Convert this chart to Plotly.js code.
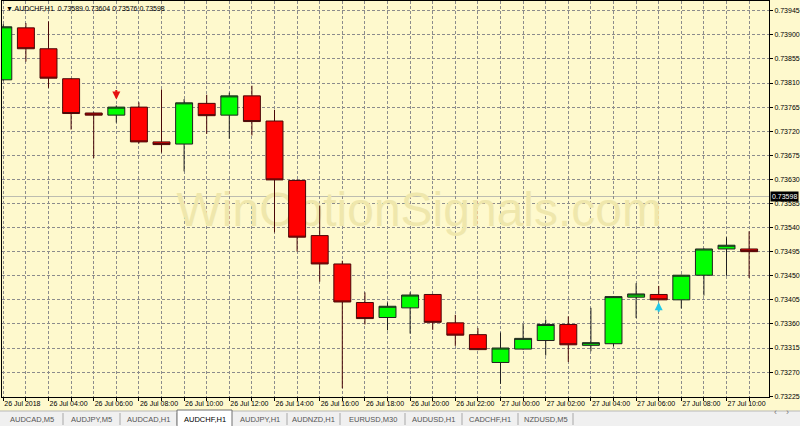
<!DOCTYPE html>
<html><head><meta charset="utf-8">
<script src="https://cdn.plot.ly/plotly-3.0.1.min.js"></script>
<style>html,body{margin:0;padding:0;background:#fef9cd;}#chart{width:800px;height:426px;}</style>
</head><body><div id="chart"></div>
<script>
// ---------- data ----------
const symbolName = 'AUDCHF,H1';
const headerOHLC = [0.73589, 0.73604, 0.73576, 0.73598];
const barIndex = [0,1,2,3,4,5,6,7,8,9,10,11,12,13,14,15,16,17,18,19,20,21,22,23,24,25,26,27,28,29,30,31,32,33];
const tickText = ['26 Jul 2018','','26 Jul 04:00','','26 Jul 06:00','','26 Jul 08:00','','26 Jul 10:00','',
  '26 Jul 12:00','','26 Jul 14:00','','26 Jul 16:00','','26 Jul 18:00','','26 Jul 20:00','',
  '26 Jul 22:00','','27 Jul 00:00','','27 Jul 02:00','','27 Jul 04:00','','27 Jul 06:00','',
  '27 Jul 08:00','','27 Jul 10:00',''];
const openP  = [0.73816,0.73913,0.73874,0.73818,0.73754,0.73750,0.73765,0.73700,0.73696,0.73772,
                0.73750,0.73786,0.73739,0.73628,0.73525,0.73472,0.73400,0.73372,0.73390,0.73415,
                0.73362,0.73340,0.73288,0.73313,0.73329,0.73359,0.73320,0.73323,0.73410,0.73415,
                0.73405,0.73451,0.73500,0.73500];
const highP  = [0.73920,0.73922,0.73925,0.73819,0.73755,0.73768,0.73774,0.73798,0.73780,0.73788,
                0.73792,0.73805,0.73760,0.73630,0.73581,0.73478,0.73419,0.73400,0.73419,0.73416,
                0.73377,0.73352,0.73344,0.73360,0.73368,0.73374,0.73390,0.73412,0.73436,0.73431,
                0.73452,0.73501,0.73522,0.73533];
const lowP   = [0.73814,0.73850,0.73801,0.73723,0.73670,0.73736,0.73697,0.73680,0.73645,0.73715,
                0.73706,0.73712,0.73531,0.73495,0.73439,0.73240,0.73359,0.73348,0.73342,0.73349,
                0.73319,0.73311,0.73248,0.73312,0.73301,0.73289,0.73309,0.73318,0.73371,0.73404,
                0.73389,0.73413,0.73450,0.73446];
const closeP = [0.73915,0.73874,0.73819,0.73753,0.73750,0.73765,0.73700,0.73695,0.73773,0.73749,
                0.73786,0.73738,0.73629,0.73522,0.73472,0.73401,0.73370,0.73393,0.73414,0.73363,
                0.73339,0.73312,0.73315,0.73333,0.73359,0.73321,0.73325,0.73411,0.73416,0.73405,
                0.73451,0.73500,0.73507,0.73495];
const sellSignalBars = [5];
const buySignalBars = [29];
const watermarkText = 'WinOptionSignals.com';
const tabNames = ['AUDCAD,M5','AUDJPY,M5','AUDCAD,H1','AUDCHF,H1','AUDJPY,H1','AUDNZD,H1','EURUSD,M30','AUDUSD,H1','CADCHF,H1','NZDUSD,M5'];

// ---------- layout geometry ----------
const W = 800, H = 426, ML = 2, MR = 31, MT = 1, MB = 29;
const PW = W - ML - MR, PH = H - MT - MB;
const BG = '#fef9cd';
const xRange = [-0.0575, 33.88];
const yRange = [0.732235, 0.739632];
const px2x = p => (p - ML) / PW;
const py2y = p => (MT + PH - p) / PH;
const FONT = 'Liberation Sans, Arial, DejaVu Sans, sans-serif';

// watermark (drawn on base axes, candles on overlay axes above it)
const wmX = xRange[0] + (xRange[1] - xRange[0]) * 0.544;
const wmY = yRange[0] + (yRange[1] - yRange[0]) * 0.463;

const traces = [
  {type:'scatter', mode:'text', x:[wmX], y:[wmY], text:[watermarkText], textposition:'middle center',
   textfont:{family:FONT, size:48, color:'#efe7ac'}, hoverinfo:'skip', xaxis:'x', yaxis:'y'},
  {type:'candlestick', x:barIndex, open:openP, high:highP, low:lowP, close:closeP,
   xaxis:'x2', yaxis:'y2',
   increasing:{fillcolor:'#00ff00', line:{color:'#202020', width:1}},
   decreasing:{fillcolor:'#ff0000', line:{color:'#4a0808', width:1}},
   whiskerwidth:0, hoverinfo:'skip'}
];

const gridStyle = {showgrid:true, gridcolor:'#8c8c8c', griddash:'3px,2px', gridwidth:1};

const shapes = [
  // current price line
  {type:'line', xref:'paper', x0:0, x1:1, yref:'y', y0:headerOHLC[3], y1:headerOHLC[3],
   line:{color:'#bdbdb0', width:1}, layer:'between'},
  // tab bar
  {type:'rect', xref:'paper', yref:'paper', x0:px2x(0), x1:px2x(800), y0:py2y(411), y1:py2y(427),
   fillcolor:'#f0f0f0', line:{width:0}, layer:'above'},
  {type:'line', xref:'paper', yref:'paper', x0:px2x(0), x1:px2x(800), y0:py2y(411), y1:py2y(411),
   line:{color:'#b8b8b8', width:1}, layer:'above'}
];
const annotations = [];

// tabs
const tabEdges = [0,63,120,177,232,287,340,405,462,518,573];
tabNames.forEach((name, i) => {
  const a = tabEdges[i], b = tabEdges[i+1];
  const active = name === symbolName;
  if (active) {
    shapes.push({type:'rect', xref:'paper', yref:'paper', x0:px2x(a), x1:px2x(b), y0:py2y(410), y1:py2y(427),
      fillcolor:'#ffffff', line:{color:'#707070', width:1}, layer:'above'});
  } else {
    shapes.push({type:'line', xref:'paper', yref:'paper', x0:px2x(b), x1:px2x(b), y0:py2y(413), y1:py2y(425),
      line:{color:'#a8a8a8', width:1}, layer:'above'});
  }
  annotations.push({xref:'paper', yref:'paper', x:px2x((a+b)/2), y:py2y(419), text:name, showarrow:false,
    xanchor:'center', yanchor:'middle', font:{family:FONT, size:7.5, color: active ? '#000' : '#555'}});
});
annotations.push({xref:'paper', yref:'paper', x:px2x(779), y:py2y(419), text:'‹', showarrow:false,
  font:{family:FONT, size:9, color:'#777'}});
annotations.push({xref:'paper', yref:'paper', x:px2x(791), y:py2y(419), text:'›', showarrow:false,
  font:{family:FONT, size:9, color:'#777'}});

// header
annotations.push({xref:'paper', yref:'paper', x:0, y:1, xanchor:'left', yanchor:'top', xshift:2, yshift:-2,
  text:'▼ ' + symbolName + '  ' + headerOHLC.map(v => v.toFixed(5)).join(' '), showarrow:false,
  font:{family:FONT, size:7, color:'#000'}});

// current price label
annotations.push({xref:'paper', x:1, xanchor:'left', xshift:1, yref:'y', y:headerOHLC[3], yanchor:'middle',
  text:headerOHLC[3].toFixed(5), showarrow:false, bgcolor:'#000', borderpad:1,
  font:{family:FONT, size:7, color:'#fff'}});

// signal arrows
sellSignalBars.forEach(i => annotations.push({x:i, y:highP[i], xref:'x', yref:'y', text:'', showarrow:true,
  ax:0, ay:-11, yshift:6, arrowhead:2, arrowsize:0.8, arrowwidth:2, arrowcolor:'#e51010'}));
buySignalBars.forEach(i => annotations.push({x:i, y:lowP[i], xref:'x', yref:'y', text:'', showarrow:true,
  ax:0, ay:11, yshift:-2, arrowhead:2, arrowsize:0.8, arrowwidth:2, arrowcolor:'#20c8e8'}));

const layout = {
  width:W, height:H, margin:{l:ML, r:MR, t:MT, b:MB, pad:0},
  paper_bgcolor:BG, plot_bgcolor:BG, showlegend:false,
  boxgap:0.25, boxgroupgap:0,
  font:{family:FONT, size:7, color:'#000'},
  xaxis: Object.assign({range:xRange, tickmode:'array', tickvals:barIndex, ticktext:tickText, tickangle:0,
    zeroline:false, showline:true, linecolor:'#000', linewidth:1, mirror:true,
    ticks:'outside', ticklen:3, tickcolor:'#000', ticklabelposition:'outside right',
    tickfont:{family:FONT, size:7, color:'#000'}, rangeslider:{visible:false}, fixedrange:true}, gridStyle),
  yaxis: Object.assign({range:yRange, side:'right', tickmode:'linear', tick0:0.73225, dtick:0.00045,
    tickformat:'.5f', zeroline:false, showline:true, linecolor:'#000', linewidth:1, mirror:true,
    ticks:'outside', ticklen:3, tickcolor:'#000', tickfont:{family:FONT, size:7, color:'#000'},
    fixedrange:true}, gridStyle),
  xaxis2:{overlaying:'x', range:xRange, visible:false, rangeslider:{visible:false}, fixedrange:true},
  yaxis2:{overlaying:'y', range:yRange, visible:false, fixedrange:true},
  shapes:shapes, annotations:annotations
};

Plotly.newPlot('chart', traces, layout, {staticPlot:true, displayModeBar:false});
</script>
</body></html>
